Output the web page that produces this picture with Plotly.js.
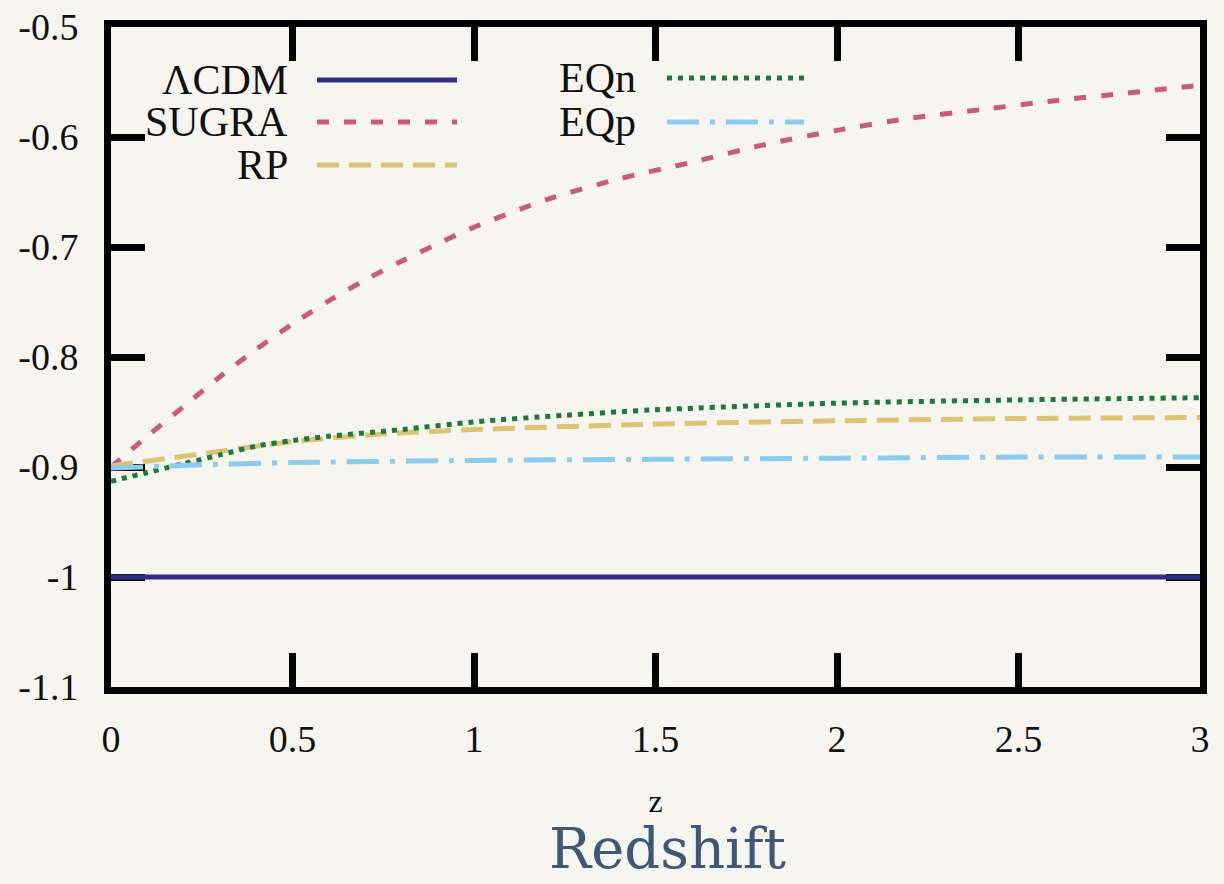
<!DOCTYPE html>
<html>
<head>
<meta charset="utf-8">
<script src="https://cdn.plot.ly/plotly-3.0.1.min.js"></script>
<style>
  html, body { margin: 0; padding: 0; background: #f7f5ef; }
  #chart { width: 1224px; height: 884px; }
</style>
</head>
<body>
<div id="chart"></div>
<script>
// ---- data ----
const seriesNames = ["ΛCDM", "SUGRA", "RP", "EQn", "EQp"];

const zLCDM = [0, 3];
const wLCDM = [-1.0, -1.0];

const zSUGRA = [0, 0.1, 0.2, 0.3, 0.4, 0.5, 0.6, 0.7, 0.8, 0.9, 1.0, 1.2, 1.4, 1.6, 1.8, 2.0, 2.2, 2.4, 2.6, 2.8, 3.0];
const wSUGRA = [-0.900, -0.872, -0.845, -0.818, -0.793, -0.770, -0.749, -0.730, -0.713, -0.697, -0.682, -0.657, -0.638, -0.623, -0.607, -0.594, -0.583, -0.575, -0.567, -0.560, -0.553];

const zRP = [0, 0.25, 0.5, 0.75, 1.0, 1.5, 2.0, 2.5, 3.0];
const wRP = [-0.899, -0.888, -0.877, -0.870, -0.866, -0.861, -0.858, -0.856, -0.855];

const zEQn = [0, 0.1, 0.2, 0.3, 0.4, 0.5, 0.6, 0.8, 1.0, 1.25, 1.5, 2.0, 2.5, 3.0];
const wEQn = [-0.913, -0.905, -0.897, -0.889, -0.881, -0.876, -0.872, -0.866, -0.859, -0.853, -0.848, -0.842, -0.839, -0.837];

const zEQp = [0, 0.25, 0.5, 1.0, 1.5, 2.0, 2.5, 3.0];
const wEQp = [-0.901, -0.898, -0.896, -0.894, -0.893, -0.892, -0.891, -0.891];

const xTickVals = [0, 0.5, 1, 1.5, 2, 2.5, 3];
const xTickText = ["0", "0.5", "1", "1.5", "2", "2.5", "3"];
const yTickVals = [-1.1, -1.0, -0.9, -0.8, -0.7, -0.6, -0.5];
const yTickText = ["-1.1", "-1", "-0.9", "-0.8", "-0.7", "-0.6", "-0.5"];

const xTitle = "z";
const caption = "Redshift";

// ---- styles ----
const styles = [
  {color: "#2f2c86", dash: "solid"},
  {color: "#cc5b78", dash: "12px,15px"},
  {color: "#dcc474", dash: "22px,10px"},
  {color: "#1d7a3e", dash: "5px,6px"},
  {color: "#8ccbeb", dash: "32px,11px,5px,11px"}
];
const LW = 5;

const xs = [zLCDM, zSUGRA, zRP, zEQn, zEQp];
const ys = [wLCDM, wSUGRA, wRP, wEQn, wEQp];

const traces = seriesNames.map((n, i) => ({
  x: xs[i], y: ys[i], name: n, type: "scatter", mode: "lines",
  line: {color: styles[i].color, width: LW, dash: styles[i].dash, shape: "spline", smoothing: 0.8},
  showlegend: false, hoverinfo: "skip", cliponaxis: true
}));

// plot area geometry
const L = 111, R = 1200, T = 27, B = 687;
const W = R - L, H = B - T;
const px = x => (x - L) / W;
const py = y => (B - y) / H;

// manual gnuplot-style legend (text then sample)
const legendRows = [
  {i: 0, tx: 290, y: 80, x0: 317, x1: 457},
  {i: 1, tx: 290, y: 122, x0: 317, x1: 457},
  {i: 2, tx: 290, y: 165, x0: 317, x1: 457},
  {i: 3, tx: 638, y: 78, x0: 667, x1: 804},
  {i: 4, tx: 638, y: 122, x0: 667, x1: 804}
];
const serif = "Liberation Serif, Times New Roman, serif";
const annotations = legendRows.map(r => ({
  xref: "paper", yref: "paper", x: px(r.tx), y: py(r.y),
  xanchor: "right", yanchor: "middle", showarrow: false,
  text: seriesNames[r.i], font: {family: serif, size: 42, color: "#111"}
}));
const shapes = legendRows.map(r => ({
  type: "line", xref: "paper", yref: "paper",
  x0: px(r.x0), x1: px(r.x1), y0: py(r.y), y1: py(r.y),
  line: {color: styles[r.i].color, width: LW, dash: styles[r.i].dash}
}));
annotations.push({
  xref: "paper", yref: "paper", x: px(668), y: py(883),
  xanchor: "center", yanchor: "bottom", showarrow: false,
  text: caption, font: {family: "DejaVu Serif, serif", size: 56, color: "#3d5878"}
});

const axisCommon = {
  showgrid: false, zeroline: false, showline: true, linecolor: "#000", linewidth: 7,
  mirror: "ticks", ticks: "inside", ticklen: 34, tickwidth: 7, tickcolor: "#000",
  tickfont: {family: serif, size: 38, color: "#111"}, tickmode: "array", fixedrange: true,
  layer: "below traces"
};

const layout = {
  width: 1224, height: 884,
  paper_bgcolor: "#f7f5ef", plot_bgcolor: "#f7f5ef",
  margin: {l: L, r: 1224 - R, t: T, b: 884 - B},
  showlegend: false,
  xaxis: Object.assign({}, axisCommon, {
    range: [0, 3], tickvals: xTickVals, ticktext: xTickText, ticklabelstandoff: 12,
    title: {text: xTitle, font: {family: serif, size: 32, color: "#111"}, standoff: 34}
  }),
  yaxis: Object.assign({}, axisCommon, {
    range: [-1.1, -0.5], tickvals: yTickVals, ticktext: yTickText, ticklabelstandoff: 18
  }),
  annotations: annotations,
  shapes: shapes
};

Plotly.newPlot("chart", traces, layout, {displayModeBar: false, staticPlot: true});
</script>
</body>
</html>
